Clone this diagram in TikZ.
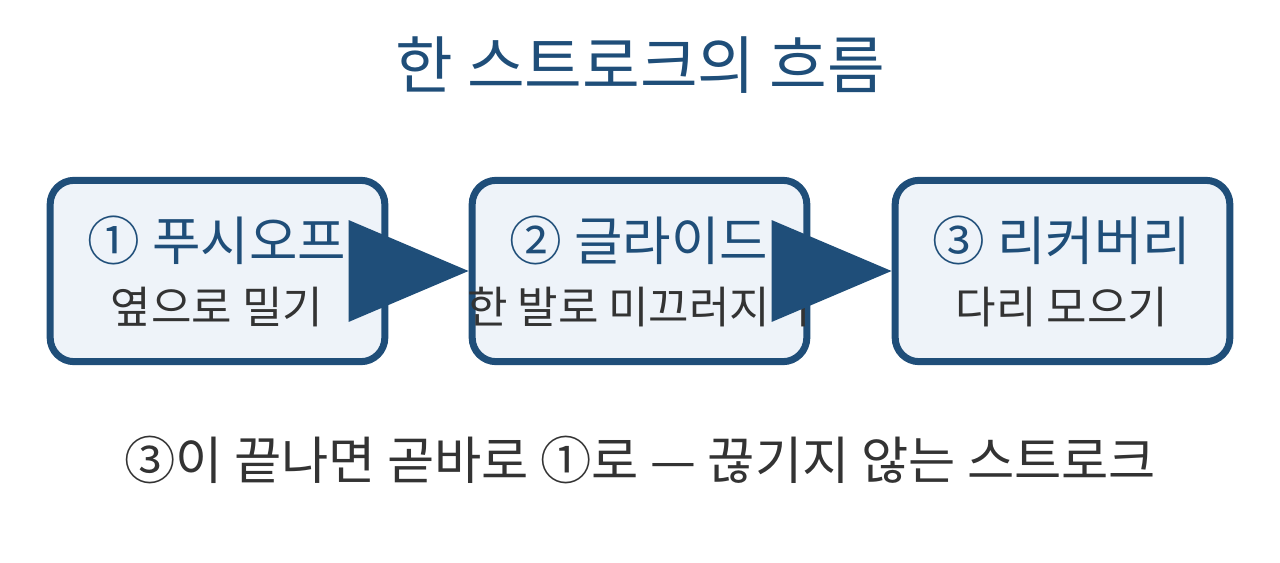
\documentclass[tikz,border=0pt]{standalone}
\usepackage{fontspec}
\setmainfont{Noto Sans CJK KR}
\usetikzlibrary{arrows.meta}
\definecolor{dblue}{HTML}{1F4E79}
\definecolor{lfill}{HTML}{EEF3F9}
\definecolor{dgray}{HTML}{333333}
\begin{document}
\begin{tikzpicture}[x=0.75pt,y=-0.75pt,
  box/.style={draw=dblue,line width=5.25pt,fill=lfill,rounded corners=18pt,minimum width=251pt,minimum height=136pt,inner sep=0pt},
  head/.style={text=dblue,font=\fontsize{39.5}{44}\selectfont},
  sub/.style={text=dgray,font=\fontsize{33}{38}\selectfont},
  arr/.style={draw=dblue,line width=5.25pt,-{Triangle[length=90pt,width=75pt]}}]
\useasboundingbox (0,0) rectangle (1280,563);
\node[text=dblue,font=\fontsize{47}{52}\selectfont] (title) at (640,65) {한 스트로크의 흐름};
\node[box] (b1) at (217.5,271) {};
\node[box] (b2) at (639.5,271) {};
\node[box] (b3) at (1062.5,271) {};
\node[head] (h1) at (217,240) {① 푸시오프};
\node[sub] (s1) at (217,307) {옆으로 밀기};
\node[head] (h2) at (639,240) {② 글라이드};
\node[sub] (s2) at (639,307) {한 발로 미끄러지기};
\node[head] (h3) at (1062,240) {③ 리커버리};
\node[sub] (s3) at (1062,307) {다리 모으기};
\draw[arr] (b1.east) -- (b2.west);
\draw[arr] (b2.east) -- (b3.west);
\node[text=dgray,font=\fontsize{38.5}{44}\selectfont] (foot) at (640,460) {③이 끝나면 곧바로 ①로 — 끊기지 않는 스트로크};
\end{tikzpicture}
\end{document}
